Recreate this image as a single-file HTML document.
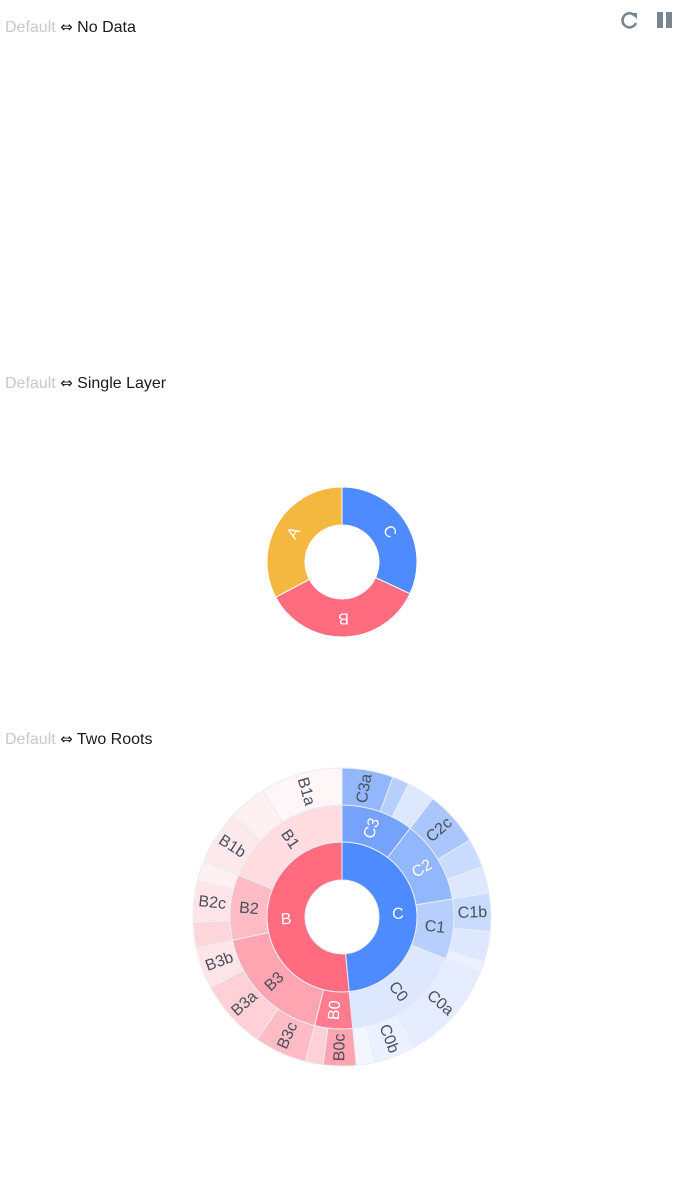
<!DOCTYPE html>
<html><head><meta charset="utf-8"><style>
body{margin:0;width:684px;height:1184px;background:#fff;font-family:"Liberation Sans",sans-serif;position:relative;overflow:hidden}
.h{position:absolute;left:5px;font-size:16px;color:#1a1a1a}
.h span{color:#c8c8c8}
.h b{font-weight:normal;font-family:"DejaVu Sans",sans-serif;font-size:15px}
</style></head><body>
<div class="h" style="top:18px"><span>Default</span> <b>⇔</b> No Data</div>
<div class="h" style="top:374px"><span>Default</span> <b>⇔</b> Single Layer</div>
<div class="h" style="top:730px"><span>Default</span> <b>⇔</b> Two Roots</div>
<svg style="position:absolute;left:618px;top:10px" width="62" height="22">
<g><path d="M17 6 A7 7 0 1 0 18 13" fill="none" stroke="#7a8592" stroke-width="2.6"/><path d="M13 3 L19 3 L19 9 Z" fill="#7a8592"/></g>
<g><rect x="39" y="2" width="6" height="16" fill="#7a8592"/><rect x="48" y="2" width="6" height="16" fill="#7a8592"/></g>
</svg>
<svg id="s1" style="position:absolute;left:0;top:0" width="684" height="1184"></svg>
<script>
const singleCats=["C","B","A"];
const singleVals=[115,127,118];
const singleColors=["#4e8bff","#ff6b7f","#f4b740"];
const rootCats=["C","B"];
const rootVals=[174.5,185.5];
const rootColors=["#4e8bff","#ff6b7f"];
const midCats=["C3","C2","C1","C0","B0","B3","B2","B1"];
const midVals=[37.5,43.2,31.3,62.5,19.7,63.8,34,68];
const midColors=["#74a2fd","#93b7fc","#b6cffd","#dde8fe","#ff7c8e","#fea5b1","#ffbcc5","#ffdde1"];
const leafCats=["C3a","","","C2c","","","C1b","","","C0a","C0b","","B0c","","B3c","B3a","B3b","","B2c","","B1b","","B1a"];
const leafVals=[20,6.6,10.9,21.5,11.3,10.4,15,11.8,4.5,38.7,16.6,7.2,12.8,6.9,20.6,26.9,16.3,10,16.3,7.7,21.2,14.6,32.2];
const leafColors=["#93b7fc","#b6cffd","#dde8fe","#aac6fd","#c9dbfe","#dde8fe","#c9dbfe","#dde8fe","#ebf1fe","#e4ecfe","#ebf1fe","#f4f7ff","#fea5b1","#ffd0d6","#ffbcc5","#ffd0d6","#ffe5e8","#ffd6dc","#ffe5e8","#fff0f2","#fde9ec","#fff0f2","#fff6f7"];
const NS="http://www.w3.org/2000/svg";
const svg=document.getElementById("s1");
function pt(cx,cy,r,a){const t=a*Math.PI/180;return [cx+r*Math.sin(t),cy-r*Math.cos(t)];}
function arc(cx,cy,r0,r1,a0,a1){const p1=pt(cx,cy,r1,a0),p2=pt(cx,cy,r1,a1),p3=pt(cx,cy,r0,a1),p4=pt(cx,cy,r0,a0);const l=(a1-a0)>180?1:0;
return `M${p1}L${p1}A${r1},${r1} 0 ${l} 1 ${p2}L${p3}A${r0},${r0} 0 ${l} 0 ${p4}Z`;}
function ring(cx,cy,r0,r1,cats,vals,cols,txtCol,mode,name){
 const tot=vals.reduce((a,b)=>a+b,0);let a=0;
 cats.forEach((c,i)=>{const span=vals[i]/tot*360;const a0=a,a1=a+span;a=a1;
  const p=document.createElementNS(NS,"path");p.setAttribute("d",arc(cx,cy,r0,r1,a0,a1));
  p.setAttribute("fill",cols[i]);p.setAttribute("stroke",mode==="tan"?"#fff":"#e8ecf5");p.setAttribute("stroke-width","1");
  
  
  svg.appendChild(p);
  if(c){const m=(a0+a1)/2;const q=pt(cx,cy,(r0+r1)/2,m);let rot;
   if(mode==="tan"){rot=m;}else{rot=m<180?m-90:m+90;}
   const t=document.createElementNS(NS,"text");t.setAttribute("x",q[0]);t.setAttribute("y",q[1]);
   t.setAttribute("text-anchor","middle");t.setAttribute("dominant-baseline","central");
   t.setAttribute("font-size","16");t.setAttribute("fill",txtCol(i));
   t.setAttribute("transform",`rotate(${rot} ${q[0]} ${q[1]})`);t.textContent=c;
   
   
   svg.appendChild(t);}
 });}
ring(342,562,37,75,singleCats,singleVals,singleColors,()=>"#fff","tan","single-slice");
ring(342,917,37,75,rootCats,rootVals,rootColors,()=>"#fff","rad","root");
ring(342,917,75,112,midCats,midVals,midColors,i=>(i<2||i===4)?"#fff":"#4a4f5c","rad","mid");
ring(342,917,112,149,leafCats,leafVals,leafColors,()=>"#4a4f5c","rad","leaf");
</script>
</body></html>
